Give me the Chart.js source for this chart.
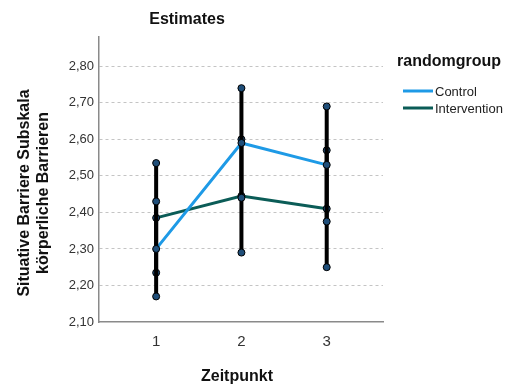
<!DOCTYPE html>
<html>
<head>
<meta charset="utf-8">
<script src="https://cdn.jsdelivr.net/npm/chart.js@4/dist/chart.umd.min.js"></script>
<style>
  html, body { margin: 0; padding: 0; background: #fff; }
  #wrap { width: 523px; height: 386px; }
</style>
</head>
<body>
<div id="wrap"><canvas id="render" width="523" height="386"></canvas></div>
<script>
// data
const timepoints = [1, 2, 3];
const groups = ['Control', 'Intervention'];
const controlMean = [2.30, 2.59, 2.53];
const controlLow = [2.17, 2.44, 2.375];
const controlHigh = [2.43, 2.74, 2.69];
const interventionMean = [2.385, 2.445, 2.41];
const interventionLow = [2.235, 2.29, 2.25];
const interventionHigh = [2.535, 2.60, 2.57];
const yTicks = [2.10, 2.20, 2.30, 2.40, 2.50, 2.60, 2.70, 2.80];

const FONT = '"Liberation Sans", Arial, sans-serif';
const lineColors = ['#1e9ae6', '#0b5c57'];
const markerFill = '#1f4e79';

function meanPoints(means) {
    return timepoints.map((t, i) => ({x: t, y: means[i]}));
}

function errorPoints(low, mean, high) {
    const pts = [];
    timepoints.forEach((t, i) => {
        pts.push({x: t, y: low[i]}, {x: t, y: mean[i]}, {x: t, y: high[i]}, {x: t, y: null});
    });
    return pts;
}

function errorSet(low, mean, high) {
    return {
        data: errorPoints(low, mean, high),
        borderColor: '#000',
        borderWidth: 4,
        pointRadius: 3.5,
        pointBackgroundColor: markerFill,
        pointBorderColor: '#000',
        pointBorderWidth: 1,
        spanGaps: false,
        order: 0
    };
}

const textPlugin = {
    id: 'texts',
    afterDraw: chart => {
        const ctx = chart.ctx;
        ctx.save();
        ctx.fillStyle = '#111';
        ctx.textBaseline = 'middle';
        ctx.textAlign = 'center';
        ctx.font = 'bold 16px ' + FONT;
        ctx.fillText('Estimates', 187, 20);
        ctx.fillText('Zeitpunkt', 237, 377);

        // y axis title, two lines
        ctx.save();
        ctx.translate(25, 193);
        ctx.rotate(-Math.PI / 2);
        ctx.fillText('Situative Barriere Subskala', 0, 0);
        ctx.fillText('körperliche Barrieren', 0, 19);
        ctx.restore();

        // legend
        ctx.textAlign = 'left';
        ctx.fillText('randomgroup', 397, 62);
        ctx.font = '13px ' + FONT;
        groups.forEach((g, i) => {
            const y = 91 + i * 17;
            ctx.strokeStyle = lineColors[i];
            ctx.lineWidth = 3;
            ctx.beginPath();
            ctx.moveTo(403, y);
            ctx.lineTo(433, y);
            ctx.stroke();
            ctx.fillStyle = '#222';
            ctx.fillText(g, 435, y + 1);
        });
        ctx.restore();
    }
};

const ctx = document.getElementById('render');
const chart = new Chart(ctx, {
    type: 'line',
    data: {
        datasets: [
            errorSet(controlLow, controlMean, controlHigh),
            errorSet(interventionLow, interventionMean, interventionHigh),
            {
                label: groups[0],
                data: meanPoints(controlMean),
                borderColor: lineColors[0],
                borderWidth: 3,
                pointRadius: 0,
                order: 1
            },
            {
                label: groups[1],
                data: meanPoints(interventionMean),
                borderColor: lineColors[1],
                borderWidth: 3,
                pointRadius: 0,
                order: 1
            }
        ]
    },
    options: {
        responsive: false,
        animation: false,
        layout: {padding: {top: 37, right: 140, bottom: 0, left: 0}},
        plugins: {legend: {display: false}, tooltip: {enabled: false}, title: {display: false}},
        scales: {
            x: {
                type: 'linear',
                min: 1 - 0.67,
                max: 3 + 0.66,
                afterBuildTicks: s => { s.ticks = timepoints.map(v => ({value: v})); },
                afterFit: s => { s.height = 64; },
                grid: {display: false, drawTicks: false},
                border: {color: '#8a8a8a', width: 1.5},
                ticks: {
                    padding: 11,
                    color: '#333',
                    font: {family: FONT, size: 15},
                    callback: v => String(v)
                }
            },
            y: {
                min: 2.10,
                max: 2.88,
                afterBuildTicks: s => { s.ticks = yTicks.map(v => ({value: v})); },
                afterFit: s => { s.width = 99; },
                grid: {
                    drawTicks: false,
                    color: c => c.tick && c.tick.value > 2.11 ? '#c4c4c4' : 'rgba(0,0,0,0)',
                    lineWidth: 1
                },
                border: {color: '#8a8a8a', width: 1.5, dash: [3, 3]},
                ticks: {
                    padding: 5,
                    color: '#333',
                    font: {family: FONT, size: 13},
                    callback: v => v.toFixed(2).replace('.', ',')
                }
            }
        }
    },
    plugins: [textPlugin]
});
</script>
</body>
</html>
